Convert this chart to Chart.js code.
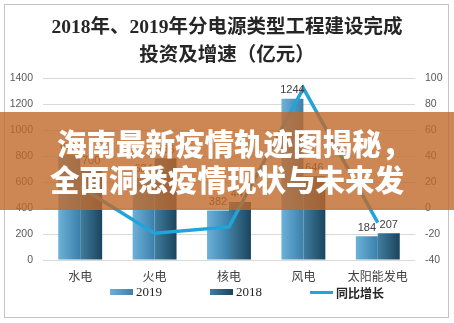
<!DOCTYPE html>
<html>
<head>
<meta charset="utf-8">
<script src="https://cdn.jsdelivr.net/npm/chart.js@4.4.1/dist/chart.umd.min.js"></script>
<style>
  html, body { margin: 0; padding: 0; background: #fff; }
  #wrap { position: relative; width: 454px; height: 323px; overflow: hidden; }
  #chart { position: absolute; left: 0; top: 0; }
  #frame { position: absolute; left: 4px; top: 4px; width: 443px; height: 312px; border: 1px solid #c4c4c4; pointer-events: none; }
  .lg-box { position: absolute; width: 23px; }
  .lg-text { position: absolute; height: 16px; line-height: 16px; color: #262626; white-space: nowrap; }
  .banner { position: absolute; left: 0; top: 112px; width: 454px; height: 98px; background: rgba(192, 105, 42, 0.8); }
  .banner div { position: absolute; color: #fff; font: 900 29.5px/36px 'Noto Sans CJK SC', sans-serif; white-space: nowrap; }
</style>
</head>
<body>
<div id="wrap">
  <canvas id="chart" width="454" height="323"></canvas>
  <div id="frame"></div>
  <div id="legend"></div>
  <div class="banner">
    <div style="left:57px; top:12px;">海南最新疫情轨迹图揭秘，</div>
    <div style="left:50px; top:48px;">全面洞悉疫情现状与未来发</div>
  </div>
</div>
<script>
// investment by power source, 2018 vs 2019 (亿元) and growth (%)

const categories = ['水电', '火电', '核电', '风电', '太阳能发电'];
const invest2019 = [814, 634, 382, 1244, 184];
const invest2018 = [700, 786, 447, 646, 207];
const growth = [16.3, -19.3, -14.5, 92.6, -11.1];

const leftTicks = { min: 0, max: 1400, step: 200 };
const rightTicks = { min: -40, max: 100, step: 20 };

const LINE_COLOR = '#21a5d8';
const GROUP_PCT = 0.59;

// horizontal gradient across a single bar, side -1 = left bar, 1 = right bar
function barFill(light, dark, side) {
  return (c) => {
    const chart = c.chart;
    const xs = chart.scales.x;
    if (!chart.chartArea || c.type !== 'data' || !xs) return dark;
    const w = xs.width / categories.length * GROUP_PCT / 2;
    const mid = xs.getPixelForValue(c.dataIndex);
    const x0 = side < 0 ? mid - w : mid;
    const g = chart.ctx.createLinearGradient(x0, 0, x0 + w, 0);
    g.addColorStop(0, light);
    g.addColorStop(1, dark);
    return g;
  };
}

const barLabels = {
  id: 'barLabels',
  afterDatasetsDraw(chart) {
    const ctx = chart.ctx;
    ctx.save();
    ctx.font = '11px "Liberation Sans"';
    ctx.fillStyle = '#404040';
    ctx.textAlign = 'center';
    ctx.textBaseline = 'bottom';
    chart.data.datasets.forEach((ds, i) => {
      if (ds.type !== 'bar') return;
      chart.getDatasetMeta(i).data.forEach((bar, j) => {
        ctx.fillText(ds.data[j], bar.x, bar.y - 3);
      });
    });
    ctx.restore();
  }
};

const tickFont = { family: "'Liberation Sans'", size: 10.5 };
const plain = (v) => String(v);

const chart = new Chart(document.getElementById('chart'), {
  data: {
    labels: categories,
    datasets: [
      {
        type: 'line',
        label: '同比增长',
        data: growth,
        yAxisID: 'y1',
        borderColor: LINE_COLOR,
        backgroundColor: LINE_COLOR,
        borderWidth: 3.5,
        pointRadius: 0,
        tension: 0,
        order: 0
      },
      {
        type: 'bar',
        label: '2019',
        data: invest2019,
        yAxisID: 'y',
        backgroundColor: barFill('#6cb1d8', '#3a80ab', -1),
        categoryPercentage: GROUP_PCT,
        barPercentage: 1,
        order: 1
      },
      {
        type: 'bar',
        label: '2018',
        data: invest2018,
        yAxisID: 'y',
        backgroundColor: barFill('#407e9f', '#1b445e', 1),
        categoryPercentage: GROUP_PCT,
        barPercentage: 1,
        order: 1
      }
    ]
  },
  options: {
    responsive: false,
    animation: false,
    layout: { padding: { bottom: 30.6 } },
    plugins: {
      legend: { display: false },
      tooltip: { enabled: false },
      title: {
        display: true,
        text: ['2018年、2019年分电源类型工程建设完成', '投资及增速（亿元）'],
        color: '#262626',
        font: { family: "'Liberation Serif', 'Noto Sans CJK SC'", size: 19.5, weight: 'bold', lineHeight: 1.45 },
        padding: { top: 14, bottom: 8 }
      }
    },
    scales: {
      x: {
        grid: { display: false, drawTicks: false },
        border: { display: false },
        ticks: { color: '#404040', font: { family: "'Noto Sans CJK SC'", size: 12 }, padding: 9 }
      },
      y: {
        position: 'left',
        min: leftTicks.min,
        max: leftTicks.max,
        ticks: { stepSize: leftTicks.step, color: '#595959', font: tickFont, padding: 10, callback: plain },
        grid: { color: '#d9d9d9', drawTicks: false },
        border: { display: false },
        afterFit: (s) => { s.width = 43; }
      },
      y1: {
        position: 'right',
        min: rightTicks.min,
        max: rightTicks.max,
        ticks: { stepSize: rightTicks.step, color: '#595959', font: tickFont, padding: 10, callback: plain },
        grid: { drawOnChartArea: false, drawTicks: false },
        border: { display: false },
        afterFit: (s) => { s.width = 39; }
      }
    }
  },
  plugins: [barLabels]
});

// html legend, order as in the picture: 2019, 2018, line
const legendEl = document.getElementById('legend');
const legendSpec = [
  { ds: 1, left: 110, swatch: 'linear-gradient(90deg,#6cb1d8,#3a80ab)', h: 6, font: "13px 'Liberation Serif'" },
  { ds: 2, left: 210, swatch: 'linear-gradient(90deg,#407e9f,#1b445e)', h: 6, font: "13px 'Liberation Serif'" },
  { ds: 0, left: 310, swatch: LINE_COLOR, h: 3, font: "bold 12px 'Noto Sans CJK SC'" }
];
legendSpec.forEach((it) => {
  const box = document.createElement('div');
  box.className = 'lg-box';
  box.style.left = it.left + 'px';
  box.style.top = (292 - it.h / 2) + 'px';
  box.style.height = it.h + 'px';
  box.style.background = it.swatch;
  legendEl.appendChild(box);
  const txt = document.createElement('div');
  txt.className = 'lg-text';
  txt.style.left = (it.left + 26) + 'px';
  txt.style.top = '284px';
  txt.style.font = it.font;
  txt.textContent = chart.data.datasets[it.ds].label;
  legendEl.appendChild(txt);
});
</script>
</body>
</html>
